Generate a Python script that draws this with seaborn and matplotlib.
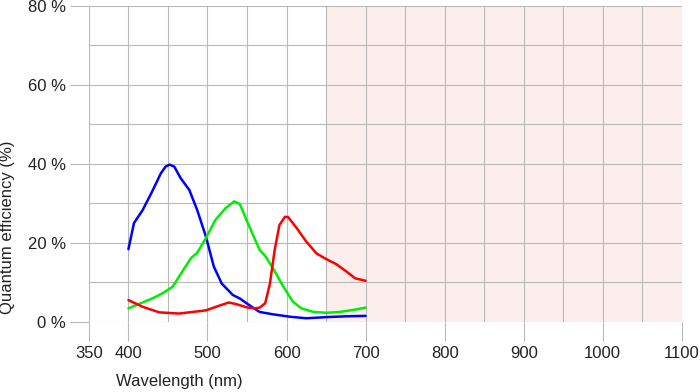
import matplotlib
matplotlib.use("Agg")
import matplotlib.pyplot as plt
import seaborn as sns
import pandas as pd

# valores (nm, % eficiencia cuantica)
blue_nm = [400, 407, 418, 430, 441, 447, 452, 458, 466, 477, 487, 498, 508, 518, 532, 541, 553, 566, 583, 604, 625, 651, 676, 700]
blue_qe = [18.4, 25.0, 28.3, 33.0, 37.6, 39.3, 39.8, 39.3, 36.4, 33.4, 28.3, 21.6, 14.0, 9.7, 6.8, 5.9, 4.2, 2.5, 1.9, 1.3, 0.9, 1.2, 1.4, 1.5]

green_nm = [400, 413, 430, 443, 456, 468, 479, 487, 498, 510, 523, 534, 541, 551, 566, 573, 583, 596, 608, 619, 634, 651, 667, 684, 700]
green_qe = [3.4, 4.5, 5.9, 7.2, 8.9, 12.7, 16.1, 17.5, 21.2, 25.8, 28.8, 30.5, 29.8, 25.0, 18.2, 16.7, 13.5, 8.9, 5.1, 3.4, 2.5, 2.3, 2.5, 3.0, 3.6]

red_nm = [400, 418, 439, 464, 481, 498, 515, 527, 536, 551, 560, 566, 573, 579, 585, 591, 598, 602, 613, 625, 638, 651, 663, 676, 687, 700]
red_qe = [5.5, 3.8, 2.4, 2.1, 2.5, 2.9, 4.1, 4.9, 4.5, 3.6, 3.4, 3.6, 4.7, 9.7, 18.2, 24.5, 26.6, 26.5, 23.7, 20.3, 17.3, 15.8, 14.6, 12.7, 11.0, 10.4]

x_major = [350, 400, 500, 600, 700, 800, 900, 1000, 1100]
x_minor = [450, 550, 650, 750, 850, 950, 1050]
y_major = [0, 20, 40, 60, 80]
y_minor = [10, 30, 50, 70]
y_labels = ["0 %", "20 %", "40 %", "60 %", "80 %"]

series = [("blue", blue_nm, blue_qe, "#0000ff"),
          ("green", green_nm, green_qe, "#00ee00"),
          ("red", red_nm, red_qe, "#ff0000")]

sns.set_style("white")
plt.rcParams["font.family"] = ["Liberation Sans", "DejaVu Sans"]
plt.rcParams["font.size"] = 12

grid_col = "#b8b8b8"
txt_col = "#222222"

fig = plt.figure(figsize=(7, 3.92), dpi=100)
ax = fig.add_axes([0.127, 0.179, 0.847, 0.806])

ax.axvspan(650, 1100, color="#fdeeee", zorder=0, lw=0)

for nombre, nm, qe, col in series:
    df = pd.DataFrame({"nm": nm, "qe": qe})
    sns.lineplot(data=df, x="nm", y="qe", color=col, lw=1.8, ax=ax,
                 estimator=None, sort=False, zorder=3,
                 solid_joinstyle="round", solid_capstyle="round")

ax.set_xlim(350, 1100)
ax.set_ylim(0, 80)
ax.set_xticks(x_major)
ax.set_xticks(x_minor, minor=True)
ax.set_yticks(y_major)
ax.set_yticks(y_minor, minor=True)
ax.set_yticklabels(y_labels)

ax.grid(True, which="both", color=grid_col, lw=0.8)
ax.set_axisbelow(True)
for s in ax.spines.values():
    s.set_visible(False)

ax.tick_params(which="major", bottom=True, left=True, direction="out",
               length=13.7, width=0.8, color=grid_col,
               labelcolor=txt_col, labelsize=12)
ax.tick_params(axis="y", which="major", pad=3)
ax.tick_params(axis="x", which="major", pad=3.5)
ax.tick_params(which="minor", length=0)

ax.set_xlabel("Wavelength (nm)", color=txt_col, fontsize=12, va="center")
ax.set_ylabel("Quantum efficiency (%)", color=txt_col, fontsize=12, va="center")
ax.xaxis.set_label_coords(0.152, -0.19)
ax.yaxis.set_label_coords(-0.137, 0.30)

fig.savefig("out.png", dpi=100)
